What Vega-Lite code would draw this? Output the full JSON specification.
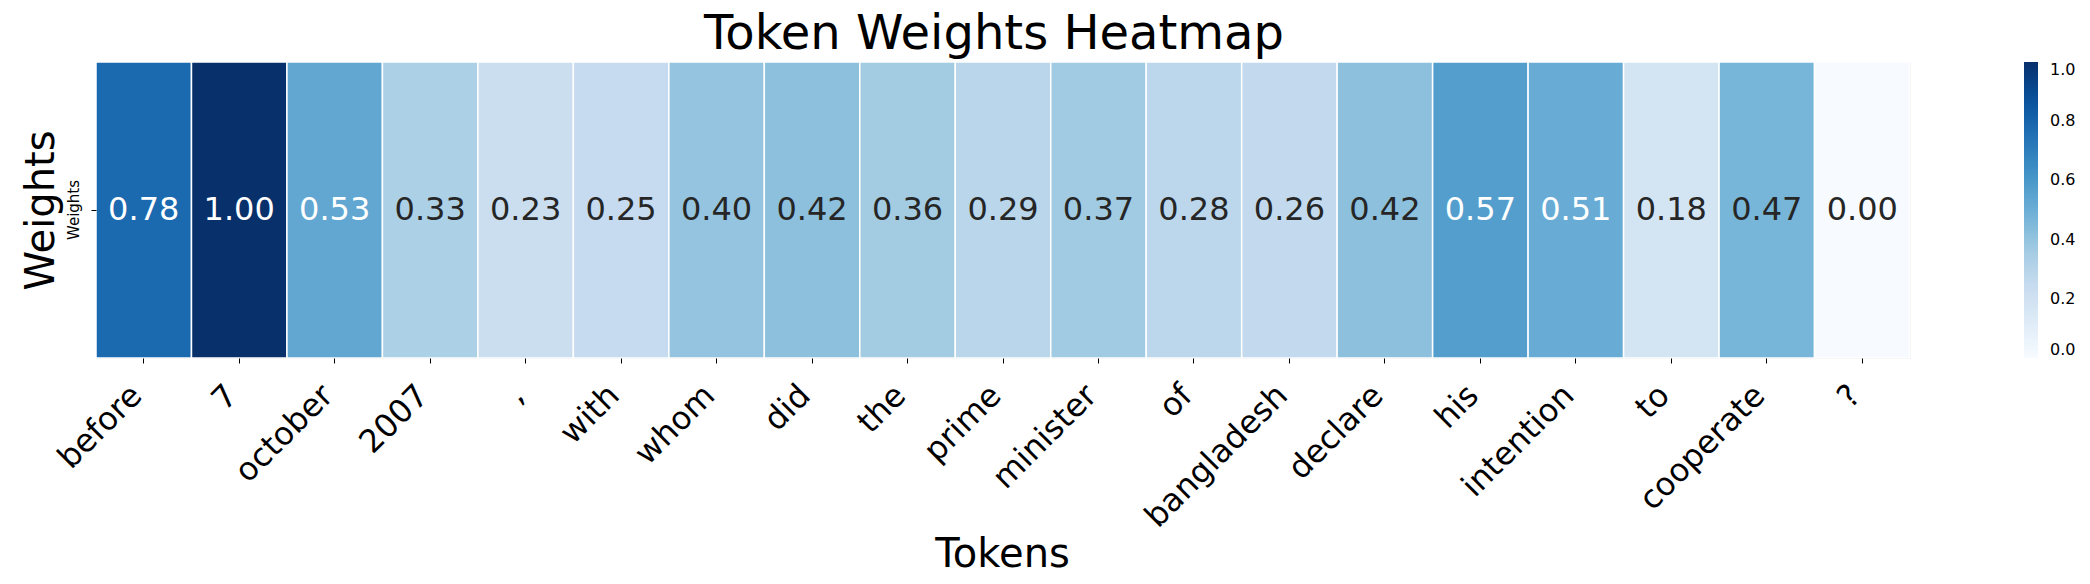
{
  "$schema": "https://vega.github.io/schema/vega-lite/v6.json",
  "autosize": {"type": "none"},
  "width": 1814,
  "height": 296,
  "padding": {"left": 96, "top": 62, "right": 180, "bottom": 226},
  "background": "white",
  "title": {
    "text": "Token Weights Heatmap",
    "font": "DejaVu Sans",
    "fontSize": 48,
    "fontWeight": "normal",
    "color": "#000000",
    "anchor": "middle",
    "baseline": "alphabetic",
    "offset": 10,
    "dx": -9,
    "dy": 46
  },
  "data": {
    "values": [
      {"token": "before", "row": "Weights", "weight": 0.78},
      {"token": "7", "row": "Weights", "weight": 1.00},
      {"token": "october", "row": "Weights", "weight": 0.53},
      {"token": "2007", "row": "Weights", "weight": 0.33},
      {"token": ",", "row": "Weights", "weight": 0.23},
      {"token": "with", "row": "Weights", "weight": 0.25},
      {"token": "whom", "row": "Weights", "weight": 0.40},
      {"token": "did", "row": "Weights", "weight": 0.42},
      {"token": "the", "row": "Weights", "weight": 0.36},
      {"token": "prime", "row": "Weights", "weight": 0.29},
      {"token": "minister", "row": "Weights", "weight": 0.37},
      {"token": "of", "row": "Weights", "weight": 0.28},
      {"token": "bangladesh", "row": "Weights", "weight": 0.26},
      {"token": "declare", "row": "Weights", "weight": 0.42},
      {"token": "his", "row": "Weights", "weight": 0.57},
      {"token": "intention", "row": "Weights", "weight": 0.51},
      {"token": "to", "row": "Weights", "weight": 0.18},
      {"token": "cooperate", "row": "Weights", "weight": 0.47},
      {"token": "?", "row": "Weights", "weight": 0.00}
    ]
  },
  "encoding": {
    "x": {
      "field": "token",
      "type": "nominal",
      "sort": null,
      "scale": {"paddingInner": 0, "paddingOuter": 0},
      "axis": {
        "title": "Tokens",
        "titleFont": "DejaVu Sans",
        "titleFontSize": 40,
        "titleFontWeight": "normal",
        "titleColor": "#000000",
        "titleBaseline": "alphabetic",
        "titleX": 906,
        "titleY": 208,
        "titleAnchor": "middle",
        "labelFont": "DejaVu Sans",
        "labelFontSize": 32,
        "labelColor": "#000000",
        "labelAngle": -45,
        "labelAlign": "right",
        "labelBaseline": "alphabetic",
        "labelPadding": 34,
        "labelDx": -5,
        "labelOverlap": false,
        "labelBound": false,
        "labelLimit": 0,
        "domain": false,
        "ticks": true,
        "tickSize": 5,
        "tickColor": "#000000",
        "tickWidth": 1
      }
    },
    "y": {
      "field": "row",
      "type": "nominal",
      "scale": {"paddingInner": 0, "paddingOuter": 0},
      "axis": {
        "title": "Weights",
        "titleFont": "DejaVu Sans",
        "titleFontSize": 40,
        "titleFontWeight": "normal",
        "titleColor": "#000000",
        "titleAngle": -90,
        "titleBaseline": "alphabetic",
        "titleX": -43,
        "titleY": 148,
        "titleAlign": "center",
        "labelFont": "DejaVu Sans",
        "labelFontSize": 15,
        "labelColor": "#000000",
        "labelAngle": -90,
        "labelAlign": "center",
        "labelBaseline": "alphabetic",
        "labelPadding": 13,
        "domain": false,
        "tickSize": 5,
        "tickColor": "#000000",
        "tickWidth": 1
      }
    }
  },
  "layer": [
    {
      "mark": {"type": "rect", "stroke": "white", "strokeWidth": 1.5},
      "encoding": {
        "color": {
          "field": "weight",
          "type": "quantitative",
          "scale": {
            "domain": [0, 0.125, 0.25, 0.375, 0.5, 0.625, 0.75, 0.875, 1],
            "range": ["#f7fbff", "#deebf7", "#c6dbef", "#9ecae1", "#6baed6", "#4292c6", "#2171b5", "#08519c", "#08306b"],
            "interpolate": "rgb"
          },
          "legend": {
            "title": null,
            "orient": "none",
            "legendX": 1928,
            "legendY": 0,
            "direction": "vertical",
            "gradientLength": 296,
            "gradientThickness": 14,
            "gradientStrokeWidth": 0,
            "values": [0, 0.2, 0.4, 0.6, 0.8, 1.0],
            "format": ".1f",
            "labelFont": "DejaVu Sans",
            "labelFontSize": 16,
            "labelColor": "#000000",
            "labelOffset": 12,
            "labelBaseline": "middle",
            "labelOverlap": false
          }
        }
      }
    },
    {
      "mark": {"type": "text", "font": "DejaVu Sans", "fontSize": 32, "baseline": "middle", "align": "center"},
      "encoding": {
        "text": {"field": "weight", "type": "quantitative", "format": ".2f"},
        "color": {
          "condition": {"test": "datum.weight > 0.5", "value": "#ffffff"},
          "value": "#262626"
        }
      }
    }
  ]
}
